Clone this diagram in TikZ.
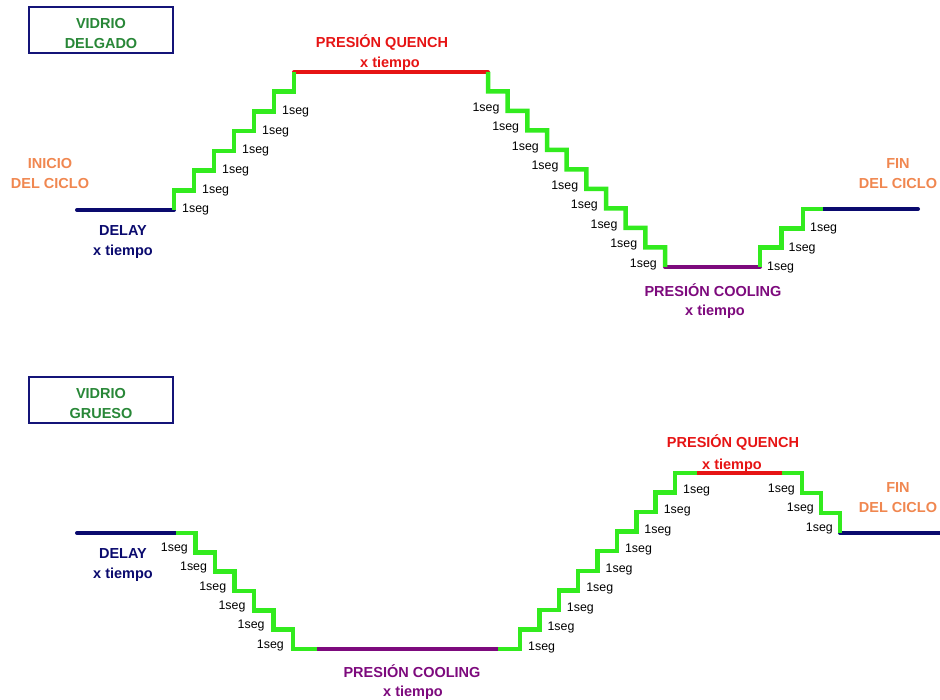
\documentclass[tikz,border=0pt]{standalone}
\usepackage{fontspec}
\setmainfont{Liberation Sans}
\definecolor{stairgreen}{RGB}{50,235,30}
\definecolor{navyline}{RGB}{10,10,110}
\definecolor{quenchred}{RGB}{230,20,20}
\definecolor{coolpurple}{RGB}{125,10,125}
\definecolor{cycleorange}{RGB}{240,135,80}
\definecolor{glassgreen}{RGB}{40,135,55}
\definecolor{boxnavy}{RGB}{20,20,120}

\begin{document}
\begin{tikzpicture}[x=1pt,y=-1pt,
  stairs/.style={line width=4.5pt,line join=miter,draw=stairgreen},
  level/.style={line width=4pt,line cap=round},
  seglbl/.style={inner sep=0pt,font=\fontsize{12.4}{13}\selectfont,text=black},
  lbltitle/.style={inner sep=0pt,align=center,font=\bfseries\fontsize{14.5}{20}\selectfont},
  glassbox/.style={draw=boxnavy,line width=2.2pt,minimum width=144pt,minimum height=46pt,inner sep=0pt},
]
\useasboundingbox (0,0) rectangle (940,700);

% ---------------- thin glass cycle ----------------
\node[glassbox] (thinbox) at (101,30) {};
\node[lbltitle,text=glassgreen] (thintext) at (101,33.5) {VIDRIO\\DELGADO};

\coordinate (tA) at (77,210);
\coordinate (tB) at (174,210);
\coordinate (tC) at (294,72);
\coordinate (tD) at (488,72);
\coordinate (tE) at (665,267);
\coordinate (tF) at (760,267);
\coordinate (tG) at (803,209);
\coordinate (tH) at (823,209);
\coordinate (tI) at (918,209);

\draw[level,navyline] (tA) -- (tB);
\draw[level,quenchred] (tC) -- (tD);
\draw[level,coolpurple] (tE) -- (tF);
\draw[level,navyline] (tH) -- (tI);

% ramp up to quench pressure
\draw[stairs] (tB) \foreach \k in {1,...,6} { -- ++(0,-19.71) -- ++(20,0) } -- (tC);
% ramp down to cooling pressure
\draw[stairs] (tD) \foreach \k in {1,...,9} { -- ++(0,19.5) -- ++(19.67,0) } -- (tE);
% ramp up to the end of the cycle
\draw[stairs] (tF) -- ++(0,-19.33) -- ++(21.5,0) -- ++(0,-19.33) -- ++(21.5,0) -- (tG) -- (tH);

\foreach \k in {0,...,5}
  \node[seglbl,anchor=west] (tu\k) at ({182+20*\k},{210-19.71*\k}) {1seg};
\foreach \k in {1,...,9}
  \node[seglbl,anchor=east] (td\k) at ({480+19.67*\k},{69.5+19.5*(\k+1)}) {1seg};
\foreach \k in {0,1,2}
  \node[seglbl,anchor=west] (te\k) at ({767+21.5*\k},{267.5-19.33*\k}) {1seg};

\node[lbltitle,text=cycleorange] (start) at (50,174) {INICIO\\DEL CICLO};
\node[lbltitle,text=navyline] (tdelay) at (123,242.5) {DELAY\\x tiempo};
\node[lbltitle,text=quenchred] (tq1) at (382,43) {PRESIÓN QUENCH};
\node[lbltitle,text=quenchred] (tq2) at (390,64) {x tiempo};
\node[lbltitle,text=coolpurple] (tc1) at (713,290) {PRESIÓN COOLING};
\node[lbltitle,text=coolpurple] (tc2) at (715,312) {x tiempo};
\node[lbltitle,text=cycleorange] (tend) at (898,174) {FIN\\DEL CICLO};

% ---------------- thick glass cycle ----------------
\node[glassbox] (thickbox) at (101,400) {};
\node[lbltitle,text=glassgreen] (thicktext) at (101,403.5) {VIDRIO\\GRUESO};

\coordinate (bA) at (77,533);
\coordinate (bB) at (176,533);
\coordinate (bC) at (293,649);
\coordinate (bD) at (317,649);
\coordinate (bE) at (498,649);
\coordinate (bF) at (675,473);
\coordinate (bG) at (697,473);
\coordinate (bH) at (782,473);
\coordinate (bI) at (840,533);
\coordinate (bJ) at (942,533);

\draw[level,navyline] (bA) -- (bB);
\draw[level,coolpurple] (bD) -- (bE);
\draw[level,quenchred] (bG) -- (bH);
\draw[level,navyline] (bI) -- (bJ);

% ramp down to cooling pressure
\draw[stairs] (bB) \foreach \k in {1,...,5} { -- ++(19.5,0) -- ++(0,19.33) } -- ++(19.5,0) -- (bC) -- (bD);
% ramp up to quench pressure
\draw[stairs] (bE) -- ++(22,0)
  \foreach \k in {1,...,8} { -- ++(0,-19.56) -- ++(19.375,0) } -- (bF) -- (bG);
% ramp down to the end of the cycle
\draw[stairs] (bH) -- ++(20,0) -- ++(0,20) -- ++(19,0) -- ++(0,20) -- ++(19,0) -- (bI);

\foreach \k in {0,...,5}
  \node[seglbl,anchor=east] (bd\k) at ({188+19.2*\k},{548.5+19.33*\k}) {1seg};
\foreach \k in {0,...,8}
  \node[seglbl,anchor=west] (bu\k) at ({528+19.375*\k},{647.5-19.56*\k}) {1seg};
\foreach \k in {0,1,2}
  \node[seglbl,anchor=east] (be\k) at ({795+19*\k},{489.5+19.5*\k}) {1seg};

\node[lbltitle,text=navyline] (bdelay) at (123,565) {DELAY\\x tiempo};
\node[lbltitle,text=coolpurple] (bc1) at (412,671) {PRESIÓN COOLING};
\node[lbltitle,text=coolpurple] (bc2) at (413,693) {x tiempo};
\node[lbltitle,text=quenchred] (bq1) at (733,443) {PRESIÓN QUENCH};
\node[lbltitle,text=quenchred] (bq2) at (732,466) {x tiempo};
\node[lbltitle,text=cycleorange] (bend) at (898,498) {FIN\\DEL CICLO};
\end{tikzpicture}
\end{document}
